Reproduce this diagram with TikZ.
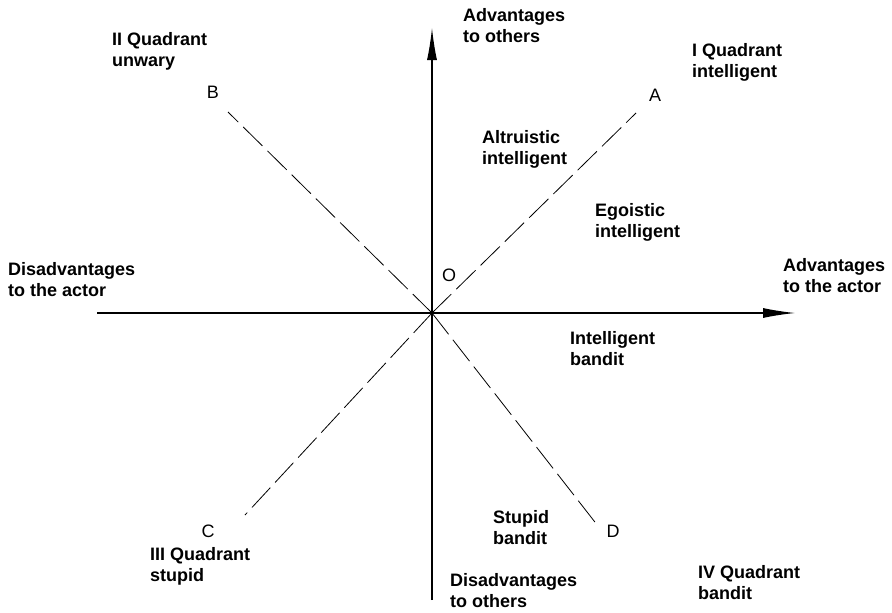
\documentclass[tikz,border=0pt]{standalone}
\usepackage{fontspec}
\setmainfont{Liberation Sans}
\usetikzlibrary{arrows.meta}
\begin{document}
\begin{tikzpicture}[x=1pt,y=-1pt,
  lbl/.style={anchor=north west,inner sep=0pt,align=left,font=\fontsize{18}{21}\selectfont\bfseries},
  pt/.style={anchor=center,inner sep=0pt,font=\fontsize{18}{21}\selectfont},
  axis/.style={line width=1.1pt,-{Latex[length=32pt,width=10pt]}},
  diag/.style={line width=0.8pt,dash pattern=on 27pt off 7pt}]
\useasboundingbox (0,0) rectangle (892,613);
% axes
\coordinate (O) at (432,313);
\coordinate (xl) at (97,313);
\coordinate (xr) at (795,313);
\coordinate (yb) at (432,600);
\coordinate (yt) at (432,28);
\draw[axis] (xl) -- (xr);
\draw[axis] (yb) -- (yt);
% diagonal ends
\coordinate (ea) at (636,113);
\coordinate (eb) at (228,112);
\coordinate (ec) at (245,515);
\coordinate (ed) at (598,526);
\draw[diag] (O) -- (ea);
\draw[diag] (O) -- (eb);
\draw[diag] (O) -- (ec);
\draw[diag] (O) -- (ed);
% point letters
\node[pt] (A) at (655,95) {A};
\node[pt] (B) at (213,92) {B};
\node[pt] (C) at (208,531) {C};
\node[pt] (D) at (613,531) {D};
\node[pt] (Olbl) at (449,275) {O};
% labels
\node[lbl] (advo) at (463,8) {Advantages\\to others};
\node[lbl] (advx) at (783,258) {Advantages\\to the actor};
\node[lbl] (disx) at (8,262) {Disadvantages\\to the actor};
\node[lbl] (diso) at (450,573) {Disadvantages\\to others};
\node[lbl] (q1) at (692,43) {I Quadrant\\intelligent};
\node[lbl] (q2) at (112,32) {II Quadrant\\unwary};
\node[lbl] (q3) at (150,547) {III Quadrant\\stupid};
\node[lbl] (q4) at (698,565) {IV Quadrant\\bandit};
\node[lbl] (alt) at (482,130) {Altruistic\\intelligent};
\node[lbl] (ego) at (595,203) {Egoistic\\intelligent};
\node[lbl] (ib) at (570,331) {Intelligent\\bandit};
\node[lbl] (sb) at (493,510) {Stupid\\bandit};
\end{tikzpicture}
\end{document}
